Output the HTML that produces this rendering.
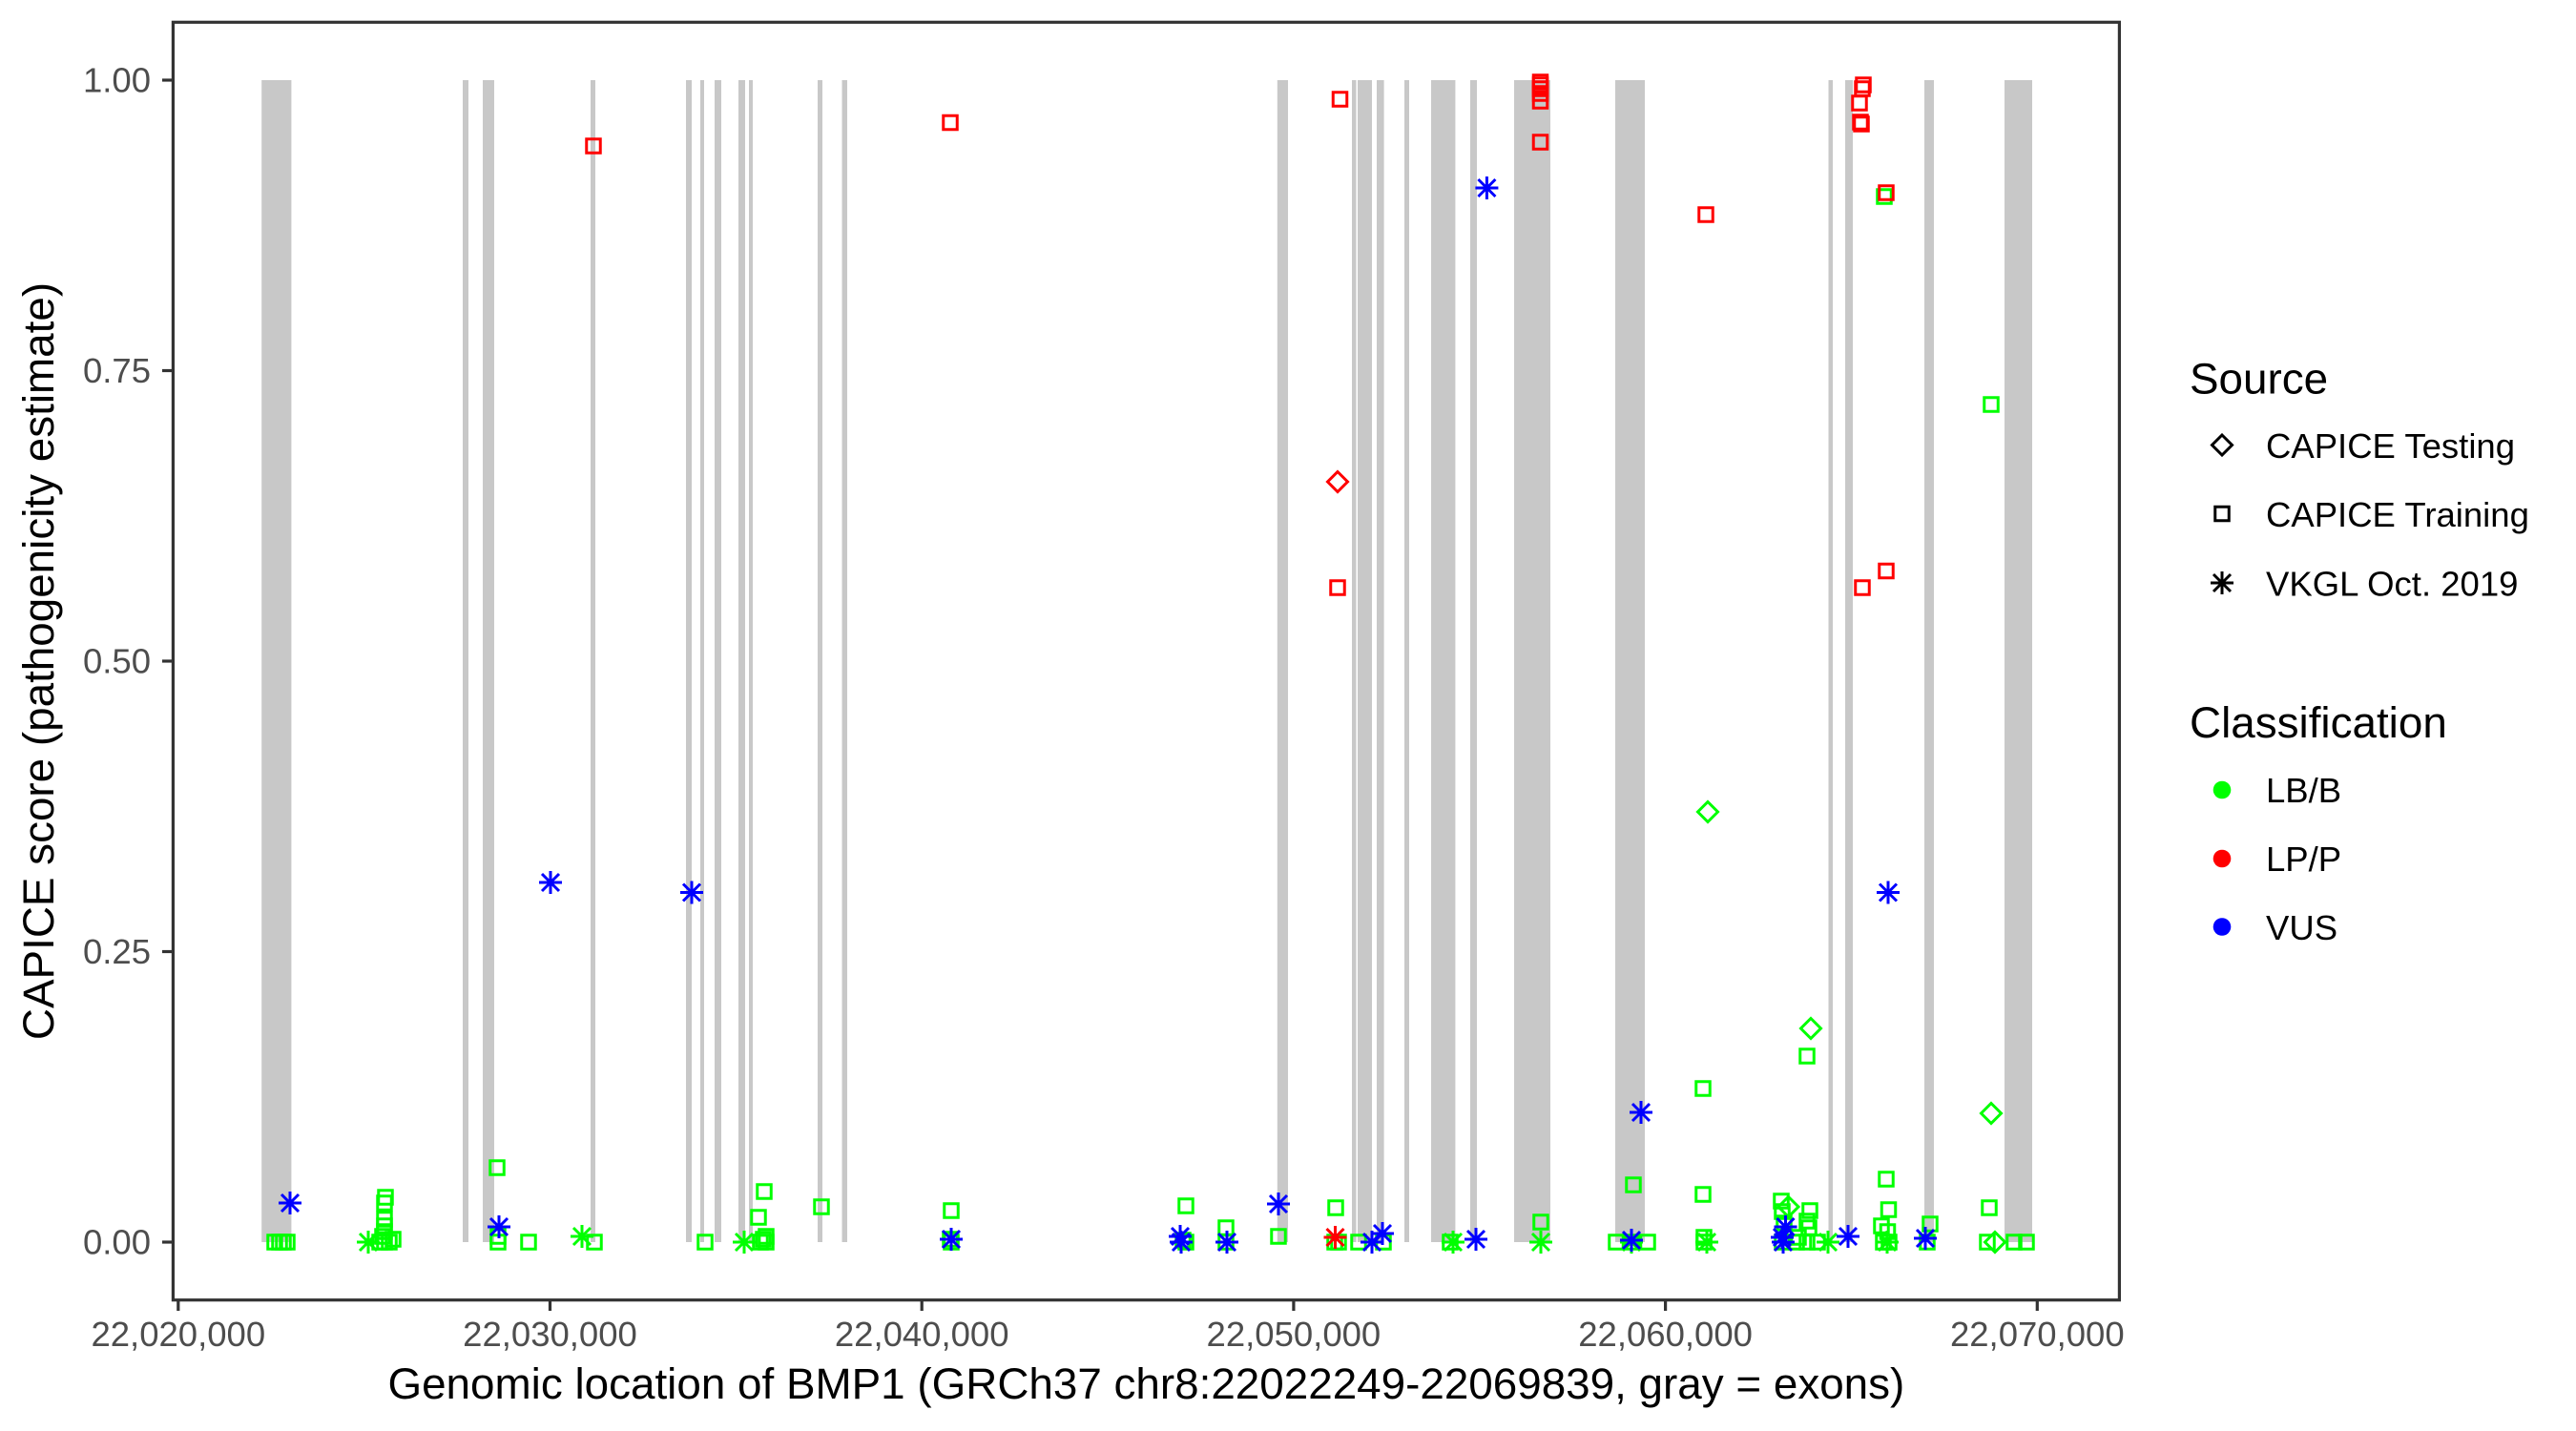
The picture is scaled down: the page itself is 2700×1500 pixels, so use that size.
<!DOCTYPE html>
<html>
<head>
<meta charset="utf-8">
<style>
  html, body { margin: 0; padding: 0; background: #ffffff; }
  svg { display: block; }
  text { font-family: "Liberation Sans", Arial, sans-serif; }
</style>
</head>
<body>
<svg width="2700" height="1500" viewBox="0 0 2700 1500" xmlns="http://www.w3.org/2000/svg" xmlns:xlink="http://www.w3.org/1999/xlink">
  <defs>
    <path id="sq" d="M-7.25-7.25h14.5v14.5h-14.5Z"/>
    <path id="di" d="M0-10.5L10.5 0 0 10.5-10.5 0Z"/>
    <path id="as" d="M-12 0h24M0-12v24M-9-9l18 18M-9 9l18-18"/>
  </defs>
  <rect x="0" y="0" width="2700" height="1500" fill="#ffffff"/>

  <g fill="#c8c8c8">
    <rect x="274.2" y="84" width="31.2" height="1218"/>
    <rect x="485" y="84" width="6" height="1218"/>
    <rect x="506" y="84" width="12" height="1218"/>
    <rect x="619" y="84" width="5" height="1218"/>
    <rect x="719" y="84" width="6" height="1218"/>
    <rect x="734" y="84" width="4" height="1218"/>
    <rect x="749" y="84" width="7" height="1218"/>
    <rect x="774" y="84" width="7" height="1218"/>
    <rect x="785" y="84" width="4" height="1218"/>
    <rect x="857" y="84" width="5" height="1218"/>
    <rect x="882.5" y="84" width="5.5" height="1218"/>
    <rect x="1338.8" y="84" width="11.2" height="1218"/>
    <rect x="1417" y="84" width="4.5" height="1218"/>
    <rect x="1423" y="84" width="15" height="1218"/>
    <rect x="1443" y="84" width="7.6" height="1218"/>
    <rect x="1472" y="84" width="5" height="1218"/>
    <rect x="1500" y="84" width="25.4" height="1218"/>
    <rect x="1541" y="84" width="7" height="1218"/>
    <rect x="1587" y="84" width="38" height="1218"/>
    <rect x="1693" y="84" width="31" height="1218"/>
    <rect x="1916.5" y="84" width="4.5" height="1218"/>
    <rect x="1934" y="84" width="8" height="1218"/>
    <rect x="2017" y="84" width="10" height="1218"/>
    <rect x="2101" y="84" width="29" height="1218"/>
  </g>

  <g fill="none" stroke="#00ff00" stroke-width="3">
    <use href="#sq" x="288" y="1302"/><use href="#sq" x="293" y="1302"/><use href="#sq" x="297" y="1302"/><use href="#sq" x="301" y="1302"/>
    <use href="#sq" x="404" y="1255"/><use href="#sq" x="403" y="1261"/><use href="#sq" x="403" y="1278"/><use href="#sq" x="403" y="1285"/>
    <use href="#sq" x="403" y="1291"/><use href="#sq" x="401" y="1296"/><use href="#sq" x="398" y="1302"/><use href="#sq" x="403" y="1302"/>
    <use href="#sq" x="408" y="1302"/><use href="#sq" x="412" y="1299"/>
    <use href="#sq" x="521" y="1224"/><use href="#sq" x="522" y="1296"/><use href="#sq" x="522" y="1302"/>
    <use href="#sq" x="554" y="1302"/><use href="#sq" x="623" y="1302"/><use href="#sq" x="739" y="1302"/>
    <use href="#sq" x="795" y="1276"/><use href="#sq" x="801" y="1249"/><use href="#sq" x="797" y="1302"/><use href="#sq" x="803" y="1302"/>
    <use href="#sq" x="803" y="1296"/><use href="#sq" x="800" y="1299"/>
    <use href="#sq" x="861" y="1265"/>
    <use href="#sq" x="997" y="1269"/><use href="#sq" x="997" y="1302"/><use href="#sq" x="996" y="1299"/>
    <use href="#sq" x="1243" y="1264"/><use href="#sq" x="1243" y="1302"/><use href="#sq" x="1240" y="1300"/>
    <use href="#sq" x="1285" y="1287"/><use href="#sq" x="1285" y="1302"/>
    <use href="#sq" x="1340" y="1296"/>
    <use href="#sq" x="1400" y="1266"/><use href="#sq" x="1399" y="1302"/><use href="#sq" x="1403" y="1302"/>
    <use href="#sq" x="1424" y="1302"/><use href="#sq" x="1450" y="1302"/><use href="#sq" x="1520" y="1302"/>
    <use href="#sq" x="1615" y="1281"/>
    <use href="#sq" x="1694" y="1302"/><use href="#sq" x="1710" y="1302"/><use href="#sq" x="1727" y="1302"/><use href="#sq" x="1712" y="1242"/>
    <use href="#sq" x="1785" y="1141"/><use href="#sq" x="1785" y="1252"/><use href="#sq" x="1786" y="1297"/><use href="#sq" x="1786" y="1302"/>
    <use href="#sq" x="1867" y="1259"/><use href="#sq" x="1868" y="1270"/><use href="#sq" x="1870" y="1282"/>
    <use href="#sq" x="1868" y="1302"/><use href="#sq" x="1883" y="1302"/><use href="#sq" x="1894" y="1302"/><use href="#sq" x="1905" y="1302"/>
    <use href="#sq" x="1897" y="1269"/><use href="#sq" x="1894" y="1280"/><use href="#sq" x="1896" y="1287"/><use href="#sq" x="1885" y="1297"/>
    <use href="#sq" x="1977" y="1236"/><use href="#sq" x="1979.5" y="1268"/><use href="#sq" x="1972" y="1285"/><use href="#sq" x="1978.5" y="1291"/>
    <use href="#sq" x="1974" y="1302"/><use href="#sq" x="1980" y="1302"/>
    <use href="#sq" x="2023" y="1283"/><use href="#sq" x="2020" y="1302"/>
    <use href="#sq" x="2085" y="1266"/><use href="#sq" x="2083" y="1302"/><use href="#sq" x="2111" y="1302"/><use href="#sq" x="2124" y="1302"/>
    <use href="#sq" x="2087" y="424"/><use href="#sq" x="1894" y="1107"/><use href="#sq" x="1975" y="206"/>
    <use href="#di" x="1874.5" y="1265"/><use href="#di" x="1790" y="851"/><use href="#di" x="1898" y="1078"/>
    <use href="#di" x="2087" y="1167"/><use href="#di" x="2091" y="1302"/>
    <use href="#as" x="386" y="1302"/><use href="#as" x="610" y="1296"/><use href="#as" x="780" y="1302"/>
    <use href="#as" x="1523" y="1302"/><use href="#as" x="1615" y="1302"/><use href="#as" x="1710" y="1302"/>
    <use href="#as" x="1789" y="1302"/><use href="#as" x="1916" y="1302"/><use href="#as" x="1978" y="1302"/>
  </g>

  <g fill="none" stroke="#ff0000" stroke-width="3">
    <use href="#sq" x="622" y="153"/><use href="#sq" x="996" y="128.5"/><use href="#sq" x="1404.5" y="104"/>
    <use href="#sq" x="1614.5" y="86"/><use href="#sq" x="1614.5" y="89"/><use href="#sq" x="1614.5" y="93"/>
    <use href="#sq" x="1614.5" y="98"/><use href="#sq" x="1614.5" y="106"/><use href="#sq" x="1614.5" y="149"/>
    <use href="#sq" x="1788" y="225"/>
    <use href="#sq" x="1953" y="89"/><use href="#sq" x="1952" y="93"/><use href="#sq" x="1949" y="108"/>
    <use href="#sq" x="1950" y="128"/><use href="#sq" x="1951" y="130"/>
    <use href="#sq" x="1977" y="202"/>
    <use href="#sq" x="1402" y="616"/><use href="#sq" x="1952" y="616"/><use href="#sq" x="1977" y="598.5"/>
    <use href="#di" x="1402" y="505"/>
    <use href="#as" x="1399.5" y="1297"/>
  </g>

  <g fill="none" stroke="#0000ff" stroke-width="3">
    <use href="#as" x="304" y="1261"/><use href="#as" x="523" y="1286"/><use href="#as" x="577" y="925"/>
    <use href="#as" x="725" y="935.5"/><use href="#as" x="997" y="1299"/><use href="#as" x="1237" y="1296"/>
    <use href="#as" x="1238" y="1302"/><use href="#as" x="1286" y="1302"/><use href="#as" x="1340" y="1262"/>
    <use href="#as" x="1438" y="1302"/><use href="#as" x="1449" y="1293"/><use href="#as" x="1547" y="1299"/>
    <use href="#as" x="1558.4" y="197"/><use href="#as" x="1710" y="1300"/><use href="#as" x="1720" y="1166"/>
    <use href="#as" x="1869" y="1302"/><use href="#as" x="1868" y="1297"/><use href="#as" x="1871.5" y="1286"/>
    <use href="#as" x="1937" y="1296"/><use href="#as" x="1979" y="935.5"/><use href="#as" x="2018" y="1298"/>
  </g>

  <rect x="181.4" y="23.3" width="2040" height="1339.4" fill="none" stroke="#333333" stroke-width="3.2"/>

  <g stroke="#333333" stroke-width="3.2">
    <line x1="170" y1="1302" x2="181.4" y2="1302"/>
    <line x1="170" y1="997.5" x2="181.4" y2="997.5"/>
    <line x1="170" y1="693" x2="181.4" y2="693"/>
    <line x1="170" y1="388.5" x2="181.4" y2="388.5"/>
    <line x1="170" y1="84" x2="181.4" y2="84"/>
    <line x1="186.8" y1="1362.7" x2="186.8" y2="1374"/>
    <line x1="576.5" y1="1362.7" x2="576.5" y2="1374"/>
    <line x1="966.2" y1="1362.7" x2="966.2" y2="1374"/>
    <line x1="1355.9" y1="1362.7" x2="1355.9" y2="1374"/>
    <line x1="1745.6" y1="1362.7" x2="1745.6" y2="1374"/>
    <line x1="2135.3" y1="1362.7" x2="2135.3" y2="1374"/>
  </g>
  <g fill="#4d4d4d" font-size="36.5" text-anchor="end">
    <text x="158" y="1314.7">0.00</text>
    <text x="158" y="1010.2">0.25</text>
    <text x="158" y="705.7">0.50</text>
    <text x="158" y="401.2">0.75</text>
    <text x="158" y="96.7">1.00</text>
  </g>
  <g fill="#4d4d4d" font-size="36.5" text-anchor="middle">
    <text x="186.8" y="1411">22,020,000</text>
    <text x="576.5" y="1411">22,030,000</text>
    <text x="966.2" y="1411">22,040,000</text>
    <text x="1355.9" y="1411">22,050,000</text>
    <text x="1745.6" y="1411">22,060,000</text>
    <text x="2135.3" y="1411">22,070,000</text>
  </g>

  <text x="1201.4" y="1466" font-size="45.8" text-anchor="middle" fill="#000000">Genomic location of BMP1 (GRCh37 chr8:22022249-22069839, gray = exons)</text>
  <text transform="translate(56,693) rotate(-90)" font-size="45.8" text-anchor="middle" fill="#000000">CAPICE score (pathogenicity estimate)</text>

  <text x="2295" y="412.5" font-size="45.8" fill="#000000">Source</text>
  <g fill="none" stroke="#000000" stroke-width="3">
    <use href="#di" x="2329" y="466.5"/>
    <use href="#sq" x="2329" y="538.5"/>
    <use href="#as" x="2329" y="611"/>
  </g>
  <g font-size="36.5" fill="#000000">
    <text x="2375" y="480">CAPICE Testing</text>
    <text x="2375" y="552">CAPICE Training</text>
    <text x="2375" y="624.5">VKGL Oct. 2019</text>
  </g>

  <text x="2295" y="773" font-size="45.8" fill="#000000">Classification</text>
  <circle cx="2329" cy="828" r="9.3" fill="#00ff00"/>
  <circle cx="2329" cy="900" r="9.3" fill="#ff0000"/>
  <circle cx="2329" cy="971.5" r="9.3" fill="#0000ff"/>
  <g font-size="36.5" fill="#000000">
    <text x="2375" y="841">LB/B</text>
    <text x="2375" y="913">LP/P</text>
    <text x="2375" y="985">VUS</text>
  </g>
</svg>
</body>
</html>
